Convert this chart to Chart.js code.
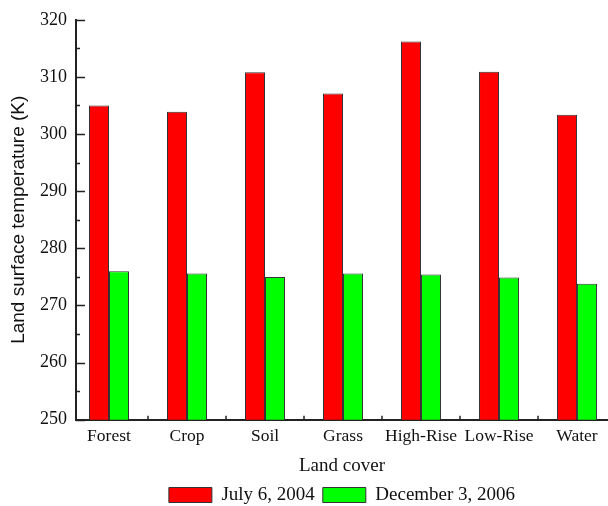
<!DOCTYPE html>
<html>
<head>
<meta charset="utf-8">
<script src="https://cdn.jsdelivr.net/npm/chart.js@4.4.1/dist/chart.umd.min.js"></script>
<style>
    html, body { margin: 0; padding: 0; background: #fff; overflow: hidden; }
    #wrap { width: 608px; height: 506px; }
</style>
</head>
<body>
<div id="wrap"><canvas id="lstChart"></canvas></div>
<script>
const landCovers = ['Forest', 'Crop', 'Soil', 'Grass', 'High-Rise', 'Low-Rise', 'Water'];
const july2004 = [305.0, 303.9, 310.8, 307.1, 316.2, 310.9, 303.4];
const dec2006 = [276.0, 275.6, 275.0, 275.6, 275.4, 274.9, 273.8];
const yTicks = [250, 260, 270, 280, 290, 300, 310, 320];
const yMinorTicks = [255, 265, 275, 285, 295, 305, 315];
const xMinorTicks = [0.5, 1.5, 2.5, 3.5, 4.5, 5.5];

const serif = '"Liberation Serif", "Times New Roman", serif';

// Origin style inward tick marks
const innerTicks = {
    id: 'innerTicks',
    afterDraw(chart) {
        const ctx = chart.ctx;
        const x = chart.scales.x;
        const y = chart.scales.y;
        const left = chart.chartArea.left;
        const bottom = chart.chartArea.bottom;
        ctx.save();
        ctx.strokeStyle = '#222';
        ctx.lineWidth = 1.5;
        ctx.beginPath();
        yTicks.forEach(v => {
            const py = Math.round(y.getPixelForValue(v)) + 0.5;
            ctx.moveTo(left, py);
            ctx.lineTo(left + 9, py);
        });
        yMinorTicks.forEach(v => {
            const py = Math.round(y.getPixelForValue(v)) + 0.5;
            ctx.moveTo(left, py);
            ctx.lineTo(left + 4, py);
        });
        xMinorTicks.forEach(v => {
            const px = x.getPixelForValue(v);
            ctx.moveTo(px, bottom);
            ctx.lineTo(px, bottom - 4);
        });
        ctx.stroke();
        ctx.restore();
    }
};

const toPoints = arr => arr.map((v, i) => ({ x: i, y: v }));

new Chart(document.getElementById('lstChart'), {
    type: 'bar',
    data: {
        datasets: [
            {
                label: 'July 6, 2004',
                data: toPoints(july2004),
                backgroundColor: '#ff0000',
                borderColor: '#333333',
                borderWidth: 1
            },
            {
                label: 'December 3, 2006',
                data: toPoints(dec2006),
                backgroundColor: '#00ff00',
                borderColor: '#333333',
                borderWidth: 1
            }
        ]
    },
    options: {
        responsive: true,
        maintainAspectRatio: false,
        animation: false,
        categoryPercentage: 0.513,
        barPercentage: 1,
        layout: { padding: { top: 9, right: 0, left: 0, bottom: -8.5 } },
        plugins: {
            tooltip: { enabled: false },
            legend: {
                position: 'bottom',
                fullSize: false,
                labels: {
                    font: { family: serif, size: 19 },
                    color: '#111',
                    boxWidth: 43,
                    boxHeight: 15,
                    padding: 8
                }
            }
        },
        scales: {
            x: {
                type: 'linear',
                min: -0.423,
                max: 6.397,
                offset: false,
                grid: { display: false, drawTicks: false },
                border: { display: true, color: '#222', width: 2 },
                afterBuildTicks(scale) {
                    scale.ticks = landCovers.map((_, i) => ({ value: i }));
                },
                ticks: {
                    autoSkip: false,
                    maxRotation: 0,
                    padding: 6,
                    color: '#111',
                    font: { family: serif, size: 17.5 },
                    callback: v => landCovers[v]
                },
                title: {
                    display: true,
                    text: 'Land cover',
                    color: '#111',
                    font: { family: serif, size: 19 },
                    padding: { top: 2, bottom: 0 }
                }
            },
            y: {
                min: 250,
                max: 320,
                grid: { display: false, drawTicks: false },
                border: { display: true, color: '#222', width: 2 },
                afterBuildTicks(scale) {
                    scale.ticks = yTicks.map(v => ({ value: v }));
                },
                afterFit(scale) {
                    scale.width = 76;
                },
                ticks: {
                    padding: 9,
                    color: '#111',
                    font: { family: serif, size: 18 }
                },
                title: {
                    display: true,
                    text: 'Land surface temperature (K)',
                    color: '#111',
                    font: { family: '"Liberation Sans", Arial, sans-serif', size: 19 },
                    padding: { top: 7, bottom: 0 }
                }
            }
        }
    },
    plugins: [innerTicks]
});
</script>
</body>
</html>
